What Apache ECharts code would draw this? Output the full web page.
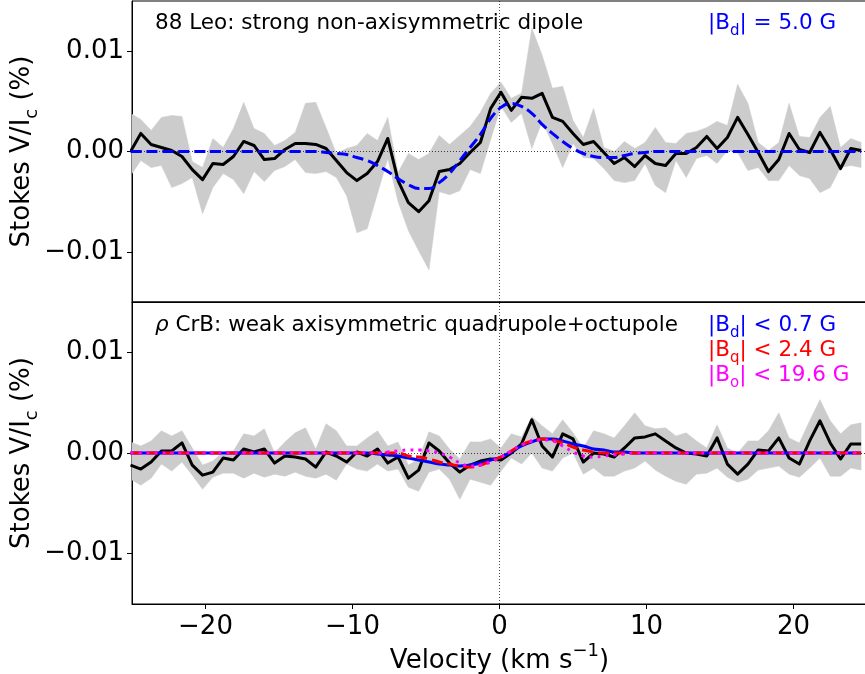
<!DOCTYPE html>
<html><head><meta charset="utf-8">
<script src="https://cdn.jsdelivr.net/npm/echarts@6/dist/echarts.min.js"></script>
<style>html,body{margin:0;padding:0;background:#fff}#c{width:865px;height:674px}</style>
</head><body><div id="c"></div>
<script>
const velocity = [
 -25.1,-24.4,-23.7,-23.0,-22.3,-21.6,-20.9,-20.2,-19.5,-18.8,-18.1,-17.4,
 -16.7,-16.0,-15.3,-14.6,-13.9,-13.2,-12.5,-11.8,-11.1,-10.4,-9.7,-9.0,
 -8.3,-7.6,-6.9,-6.2,-5.5,-4.8,-4.1,-3.4,-2.7,-2.0,-1.3,-0.6,
 0.1,0.8,1.5,2.2,2.9,3.6,4.3,5.0,5.7,6.4,7.1,7.8,
 8.5,9.2,9.9,10.6,11.3,12.0,12.7,13.4,14.1,14.8,15.5,16.2,
 16.9,17.6,18.3,19.0,19.7,20.4,21.1,21.8,22.5,23.2,23.9,24.6];

// 88 Leo
const leoV = [
 0.0000,0.0018,0.0007,0.0004,0.0001,-0.0005,-0.0018,-0.0028,-0.0012,-0.0013,-0.0005,0.0010,
 0.0006,-0.0008,-0.0007,0.0002,0.0008,0.0008,0.0007,0.0003,-0.0009,-0.0021,-0.0029,-0.0022,
 -0.0010,0.0013,-0.0029,-0.0051,-0.0060,-0.0049,-0.0020,-0.0018,-0.0012,-0.0001,0.0009,0.0043,
 0.0059,0.0041,0.0054,0.0053,0.0058,0.0034,0.0030,0.0018,0.0007,0.0010,-0.0001,-0.0012,
 -0.0006,-0.0015,-0.0004,-0.0012,-0.0014,-0.0002,-0.0002,0.0004,0.0015,0.0003,0.0014,0.0034,
 0.0017,-0.0001,-0.0020,-0.0008,0.0018,0.0002,-0.0001,0.0019,0.0002,-0.0017,0.0003,0.0001];
const leoUpper = [
 0.0038,0.0032,0.0021,0.0034,0.0036,0.0035,-0.0010,-0.0016,0.0013,0.0004,0.0023,0.0049,
 0.0023,0.0018,0.0006,0.0011,0.0019,0.0048,0.0049,0.0024,-0.0002,0.0003,0.0006,0.0018,
 0.0011,0.0034,-0.0021,-0.0002,-0.0008,-0.0002,0.0016,0.0007,0.0016,0.0025,0.0039,0.0058,
 0.0069,0.0053,0.0058,0.0123,0.0096,0.0063,0.0065,0.0031,0.0014,0.0043,0.0004,0.0000,
 0.0010,0.0003,0.0009,0.0024,0.0009,0.0008,0.0018,0.0020,0.0024,0.0030,0.0026,0.0067,
 0.0048,0.0009,0.0001,0.0009,0.0048,0.0015,0.0014,0.0034,0.0045,0.0004,0.0013,0.0009];
const leoLower = [
 -0.0024,-0.0009,-0.0016,-0.0014,-0.0036,-0.0032,-0.0026,-0.0062,-0.0036,-0.0022,-0.0028,-0.0042,
 -0.0020,-0.0030,-0.0019,-0.0015,-0.0008,-0.0021,-0.0022,-0.0020,-0.0026,-0.0044,-0.0081,-0.0077,
 -0.0042,-0.0007,-0.0050,-0.0079,-0.0099,-0.0118,-0.0040,-0.0043,-0.0039,-0.0018,-0.0022,0.0012,
 0.0045,0.0029,0.0038,0.0003,0.0030,0.0008,-0.0016,0.0008,-0.0006,-0.0007,-0.0017,-0.0029,
 -0.0031,-0.0029,-0.0012,-0.0034,-0.0041,-0.0009,-0.0026,-0.0007,-0.0004,-0.0012,0.0001,-0.0001,
 -0.0019,-0.0016,-0.0029,-0.0029,-0.0014,-0.0024,-0.0027,-0.0041,-0.0036,-0.0016,-0.0014,-0.0016];
const leoDipole = [
 0,0,0,0,0,0,0,0,0,0,0,0,
 0,0,0,0,0,0,0,-0.0001,-0.0002,-0.0003,-0.0006,-0.0009,
 -0.0014,-0.0020,-0.0027,-0.0033,-0.0037,-0.0037,-0.0031,-0.0022,-0.0009,0.0004,0.0017,0.0033,
 0.0044,0.0048,0.0045,0.0038,0.0027,0.0018,0.0010,0.0003,-0.0002,-0.0005,-0.0006,-0.0006,
 -0.0004,-0.0002,-0.0001,0,0,0,0,0,0,0,0,0,
 0,0,0,0,0,0,0,0,0,0,0,0];

// rho CrB
const crbV = [
 -0.0012,-0.0016,-0.0009,0.0002,0.0002,0.0010,-0.0012,-0.0022,-0.0019,-0.0005,-0.0007,0.0004,
 0.0001,0.0004,-0.0010,-0.0003,-0.0004,-0.0006,-0.0014,0.0001,-0.0003,-0.0009,0.0001,-0.0003,
 0.0004,-0.0010,-0.0004,-0.0025,-0.0017,0.0010,0.0002,-0.0010,-0.0019,-0.0012,-0.0008,-0.0006,
 -0.0007,0.0000,0.0009,0.0033,0.0007,-0.0004,0.0019,0.0014,-0.0009,0.0000,-0.0001,-0.0004,
 0.0005,0.0015,0.0016,0.0019,0.0012,0.0005,0.0000,-0.0001,-0.0003,0.0015,-0.0011,-0.0021,
 -0.0011,0.0003,0.0002,0.0015,-0.0005,-0.0011,0.0012,0.0032,0.0010,-0.0006,0.0009,0.0009];
const crbUpper = [
 0.0011,0.0007,0.0012,0.0022,0.0017,0.0022,0.0005,-0.0012,-0.0008,0.0001,0.0002,0.0019,
 0.0017,0.0024,0.0000,0.0011,0.0020,0.0025,0.0004,0.0029,0.0022,0.0007,0.0007,0.0015,
 0.0022,0.0007,0.0011,-0.0012,-0.0006,0.0021,0.0017,0.0004,-0.0006,0.0011,0.0011,0.0014,
 0.0005,0.0019,0.0016,0.0036,0.0027,0.0019,0.0033,0.0020,0.0005,0.0022,0.0019,0.0015,
 0.0027,0.0040,0.0027,0.0024,0.0025,0.0017,0.0020,0.0012,0.0005,0.0028,0.0005,0.0000,
 0.0012,0.0012,0.0022,0.0040,0.0015,0.0010,0.0032,0.0053,0.0032,0.0019,0.0028,0.0030];
const crbLower = [
 -0.0026,-0.0032,-0.0025,-0.0011,-0.0018,-0.0009,-0.0022,-0.0036,-0.0024,-0.0020,-0.0020,-0.0025,
 -0.0020,-0.0024,-0.0021,-0.0023,-0.0019,-0.0023,-0.0025,-0.0021,-0.0027,-0.0011,-0.0016,-0.0018,
 -0.0011,-0.0018,-0.0016,-0.0034,-0.0038,-0.0019,-0.0016,-0.0026,-0.0046,-0.0026,-0.0029,-0.0032,
 -0.0018,-0.0005,-0.0011,0.0000,-0.0015,-0.0018,-0.0005,0.0000,-0.0021,-0.0015,-0.0023,-0.0023,
 -0.0018,-0.0015,-0.0008,-0.0017,-0.0023,-0.0028,-0.0031,-0.0021,-0.0020,-0.0015,-0.0024,-0.0029,
 -0.0026,-0.0017,-0.0015,-0.0013,-0.0021,-0.0024,-0.0015,-0.0005,-0.0023,-0.0023,-0.0015,-0.0017];
const crbDipole = [
 0,0,0,0,0,0,0,0,0,0,0,0,
 0,0,0,0,0,0,0,0,0,0,0,0,
 -0.0001,-0.0002,-0.0003,-0.0005,-0.0007,-0.0009,-0.0011,-0.0012,-0.0013,-0.0012,-0.0010,-0.0007,
 -0.0004,0.0001,0.0007,0.0011,0.0014,0.0014,0.0012,0.0009,0.0007,0.0004,0.0003,0.0001,
 0.0001,0,0,0,0,0,0,0,0,0,0,0,
 0,0,0,0,0,0,0,0,0,0,0,0];
const crbQuad = [
 0,0,0,0,0,0,0,0,0,0,0,0,
 0,0,0,0,0,0,0,0,0,0,0,0,
 0,0,0,-0.0003,-0.0004,-0.0006,-0.0009,-0.0011,-0.0013,-0.0014,-0.0012,-0.0008,
 -0.0004,0.0002,0.0008,0.0012,0.0014,0.0013,0.0010,0.0006,0.0003,0.0001,0,0,
 0,0,0,0,0,0,0,0,0,0,0,0,
 0,0,0,0,0,0,0,0,0,0,0,0];
const crbOct = [
 0,0,0,0,0,0,0,0,0,0,0,0,
 0,0,0,0,0,0,0,0,0,0,0,0,
 0,0.0001,0.0002,0.0003,0.0003,0.0002,0.0000,-0.0004,-0.0010,-0.0013,-0.0012,-0.0009,
 -0.0004,0.0002,0.0008,0.0012,0.0013,0.0012,0.0007,0.0001,-0.0003,-0.0004,-0.0003,-0.0002,
 -0.0001,0,0,0,0,0,0,0,0,0,0,0,
 0,0,0,0,0,0,0,0,0,0,0,0];

const xTicks = [-20, -10, 0, 10, 20];
const yTicks = [-0.01, 0, 0.01];

const FONT = 'DejaVu Sans';
const BLUE = '#0000ff', RED = '#ff0000', MAG = '#ff00ff';

const pair = ys => velocity.map((v, k) => [v, ys[k]]);
const minus = '\u2212';
const fmtX = v => (v < 0 ? minus : '') + Math.abs(v);
const fmtY = v => (Math.abs(v) < 1e-9 ? '0.00' : (v < 0 ? minus : '') + Math.abs(v).toFixed(2));

// grey uncertainty band: one polygon built from the upper and lower arrays via the axis scales
function band(gi, lower, upper) {
  return {
    type:'custom', xAxisIndex:gi, yAxisIndex:gi, clip:true, silent:true, z:1,
    data:[[velocity[0], lower[0]]],
    renderItem:function (params, api) {
      const pts = [];
      for (let k = 0; k < velocity.length; k++) pts.push(api.coord([velocity[k], upper[k]]));
      for (let k = velocity.length - 1; k >= 0; k--) pts.push(api.coord([velocity[k], lower[k]]));
      return {type:'polygon', shape:{points:pts}, style:{fill:'#cccccc', stroke:'#cccccc', lineWidth:0.5}};
    }
  };
}
const zeroLines = {
  silent:true, symbol:'none', label:{show:false}, animation:false, z:2,
  lineStyle:{color:'#000', width:0.8, type:[1,2], opacity:0.9},
  data:[{yAxis:0},{xAxis:0}]
};
function dataLine(gi, ys) {
  return {type:'line', xAxisIndex:gi, yAxisIndex:gi, data:pair(ys), symbol:'none',
    lineStyle:{color:'#000', width:3, join:'round'}, z:3, markLine:zeroLines};
}
function model(gi, ys, color, type, width, z) {
  return {type:'line', xAxisIndex:gi, yAxisIndex:gi, data:pair(ys), symbol:'none', smooth:0.4,
    lineStyle:{color:color, width:width, type:type}, z:z};
}

const yRich = {
  a:{fontFamily:FONT, fontSize:26, lineHeight:32, verticalAlign:'top', color:'#000'},
  s:{fontFamily:FONT, fontSize:18, lineHeight:18, verticalAlign:'bottom', color:'#000'}
};
const yAxisBase = {
  type:'value', min:-0.015, max:0.015, splitLine:{show:false},
  axisLine:{show:true, onZero:false, lineStyle:{color:'#000', width:1}},
  axisTick:{show:true, inside:false, length:5, customValues:yTicks, lineStyle:{color:'#000', width:1}},
  axisLabel:{customValues:yTicks, formatter:fmtY, fontSize:26, fontFamily:FONT, color:'#000', margin:8},
  name:'{a|Stokes V/I}{s|c}{a| (%)}', nameLocation:'middle', nameRotate:90, nameGap:91,
  nameMoveOverlap:false,
  nameTextStyle:{rich:yRich}
};
const xAxisBase = {type:'value', min:-25, max:25, splitLine:{show:false},
  axisLine:{show:true, onZero:false, lineStyle:{color:'#000', width:1}}};

function annot(x, y, text, rich) {
  return {type:'text', x:x, y:y, z:100, silent:true,
    style:{text:text, rich:rich, verticalAlign:'top', align:'left'}};
}
function richSet(color) {
  return {
    n:{fontFamily:FONT, fontSize:21.5, lineHeight:26, verticalAlign:'top', fill:color},
    i:{fontFamily:FONT, fontSize:21.5, lineHeight:26, verticalAlign:'top', fontStyle:'italic', fill:color},
    s:{fontFamily:FONT, fontSize:15, lineHeight:15, verticalAlign:'bottom', fill:color}
  };
}

const option = {
  animation:false,
  backgroundColor:'#fff',
  grid:[
    {left:132, top:1, width:735, height:301, show:true, borderColor:'#000', borderWidth:1, outerBoundsMode:'none'},
    {left:132, top:302, width:735, height:302, show:true, borderColor:'#000', borderWidth:1, outerBoundsMode:'none'}
  ],
  xAxis:[
    Object.assign({}, xAxisBase, {gridIndex:0, axisTick:{show:false}, axisLabel:{show:false}}),
    Object.assign({}, xAxisBase, {gridIndex:1,
      axisTick:{show:true, inside:false, length:5, customValues:xTicks, lineStyle:{color:'#000', width:1}},
      axisLabel:{customValues:xTicks, formatter:fmtX, fontSize:26, fontFamily:FONT, color:'#000', margin:10},
      name:'{a|Velocity (km s}{p|' + minus + '1}{a|)}', nameLocation:'middle', nameGap:38,
      nameMoveOverlap:false,
      nameTextStyle:{rich:{
        a:{fontFamily:FONT, fontSize:26, lineHeight:32, verticalAlign:'bottom', color:'#000'},
        p:{fontFamily:FONT, fontSize:18, lineHeight:18, verticalAlign:'top', color:'#000'}
      }}})
  ],
  yAxis:[
    Object.assign({}, yAxisBase, {gridIndex:0}),
    Object.assign({}, yAxisBase, {gridIndex:1})
  ],
  series:[
    band(0, leoLower, leoUpper),
    dataLine(0, leoV),
    model(0, leoDipole, BLUE, [11.1, 4.8], 3, 4),
    band(1, crbLower, crbUpper),
    dataLine(1, crbV),
    model(1, crbDipole, BLUE, 'solid', 3, 4),
    model(1, crbQuad, RED, [11.1, 4.8], 3, 5),
    model(1, crbOct, MAG, [3, 5], 3, 6)
  ],
  graphic:[
    annot(155, 12.3, '{n|88 Leo: strong non-axisymmetric dipole}', richSet('#000')),
    annot(708, 12.3, '{n||B}{s|d}{n|| = 5.0 G}', richSet(BLUE)),
    annot(155, 314.3, '{i|\u03c1}{n| CrB: weak axisymmetric quadrupole+octupole}', richSet('#000')),
    annot(708, 314.3, '{n||B}{s|d}{n|| < 0.7 G}', richSet(BLUE)),
    annot(708, 339.3, '{n||B}{s|q}{n|| < 2.4 G}', richSet(RED)),
    annot(708, 364.3, '{n||B}{s|o}{n|| < 19.6 G}', richSet(MAG))
  ]
};
const chart = echarts.init(document.getElementById('c'), null, {renderer:'canvas'});
chart.setOption(option);
</script>
</body></html>
